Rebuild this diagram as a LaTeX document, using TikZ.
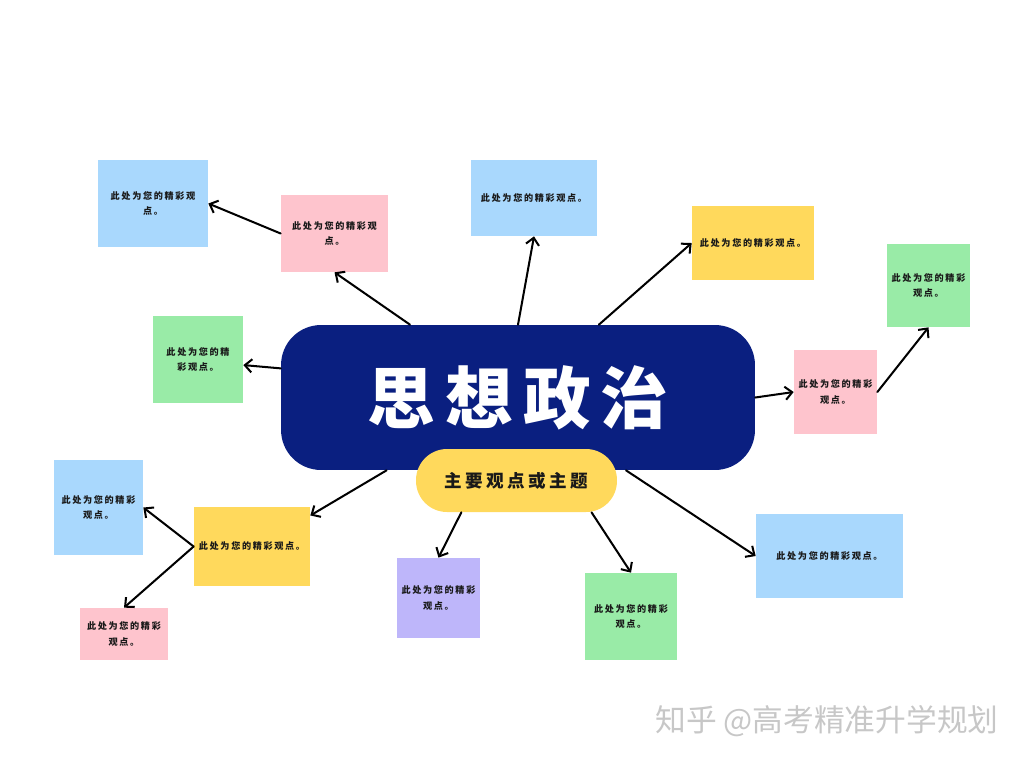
\documentclass[tikz,border=0pt]{standalone}
\usepackage{fontspec}
\usepackage{xcolor}
\usetikzlibrary{arrows.meta}
\newfontfamily\cjk{Noto Sans CJK SC}

\definecolor{navy}{HTML}{0A1F80}
\definecolor{cardblue}{HTML}{A9D8FD}
\definecolor{cardpink}{HTML}{FEC4CD}
\definecolor{cardyellow}{HTML}{FFD95C}
\definecolor{cardgreen}{HTML}{99EBA7}
\definecolor{cardpurple}{HTML}{BEB6FA}

\begin{document}
\begin{tikzpicture}[x=0.02cm,y=-0.02cm, font=\cjk, line cap=round, line join=round]
		\useasboundingbox (0,0) rectangle (1024,768);
		
		% ===== styles =====
		\tikzset{
			card/.style={inner sep=0pt, align=center, text=black!90,
				font={\cjk\bfseries\addfontfeature{LetterSpace=18}\fontsize{5.2}{8.6}\selectfont}},
			link/.style={-{Straight Barb[length=4pt,width=7.5pt]}, line width=1.15pt, black}
		}
		
		% ===== trung tâm =====
		\node[fill=navy, rounded corners=0.8cm, minimum width=9.48cm, minimum height=2.9cm, text=white,
			font={\cjk\bfseries\addfontfeature{LetterSpace=15}\fontsize{38.5}{40}\selectfont}]
			(main) at (518,397.5) {思想政治};
		\node[fill=cardyellow, rounded corners=0.62cm, minimum width=4.02cm, minimum height=1.26cm, text=black!90,
			font={\cjk\bfseries\addfontfeature{LetterSpace=20}\fontsize{10}{12}\selectfont}]
			(theme) at (516.5,480.5) {主要观点或主题};
		
		% ===== các ô =====
		\node[card, fill=cardblue, minimum width=2.2cm, minimum height=1.74cm] (b1) at (153,203.5) {此处为您的精彩观\\点。};
		\node[card, fill=cardpink, minimum width=2.14cm, minimum height=1.54cm] (p2) at (334.5,233.5) {此处为您的精彩观\\点。};
		\node[card, fill=cardblue, minimum width=2.52cm, minimum height=1.52cm] (b3) at (534,198) {此处为您的精彩观点。};
		\node[card, fill=cardyellow, minimum width=2.44cm, minimum height=1.48cm] (y4) at (753,243) {此处为您的精彩观点。};
		\node[card, fill=cardgreen, minimum width=1.66cm, minimum height=1.66cm] (g5) at (928.5,285.5) {此处为您的精彩\\观点。};
		\node[card, fill=cardgreen, minimum width=1.8cm, minimum height=1.74cm] (g6) at (198,359.5) {此处为您的精\\彩观点。};
		\node[card, fill=cardpink, minimum width=1.66cm, minimum height=1.68cm] (p7) at (835.5,392) {此处为您的精彩\\观点。};
		\node[card, fill=cardblue, minimum width=1.78cm, minimum height=1.9cm] (b10) at (98.5,507.5) {此处为您的精彩\\观点。};
		\node[card, fill=cardyellow, minimum width=2.32cm, minimum height=1.58cm] (y11) at (252,546.5) {此处为您的精彩观点。};
		\node[card, fill=cardpink, minimum width=1.76cm, minimum height=1.04cm] (p12) at (124,634) {此处为您的精彩\\观点。};
		\node[card, fill=cardpurple, minimum width=1.66cm, minimum height=1.6cm] (u13) at (438.5,598) {此处为您的精彩\\观点。};
		\node[card, fill=cardgreen, minimum width=1.84cm, minimum height=1.74cm] (g14) at (631,616.5) {此处为您的精彩\\观点。};
		\node[card, fill=cardblue, minimum width=2.94cm, minimum height=1.68cm] (b15) at (829.5,556) {此处为您的精彩观点。};
		
		% ===== mũi tên =====
		\draw[link] (main.146) -- (p2.south);
		\draw[link] (p2.west) -- (b1.east);
		\draw[link] (main.north) -- (b3.south);
		\draw[link] (main.42) -- (y4.west);
		\draw[link] (main.173) -- (g6.-7);
		\draw[link] (main.east) -- (p7.west);
		\draw[link] (p7.east) -- (g5.south);
		\draw[link] (main.209) -- (y11.28);
		\draw[link] (y11.west) -- (b10.east);
		\draw[link] (y11.west) -- (p12.north);
		\draw[link] (theme.210) -- (u13.north);
		\draw[link] (theme.337) -- (g14.north);
		\draw[link] (main.326) -- (b15.west);
		
		% watermark
		\node[text=black!22, font={\cjk\fontsize{17.5}{19}\selectfont}] (wm) at (827,721) {知乎 @高考精准升学规划};
		
	\end{tikzpicture}
\end{document}
